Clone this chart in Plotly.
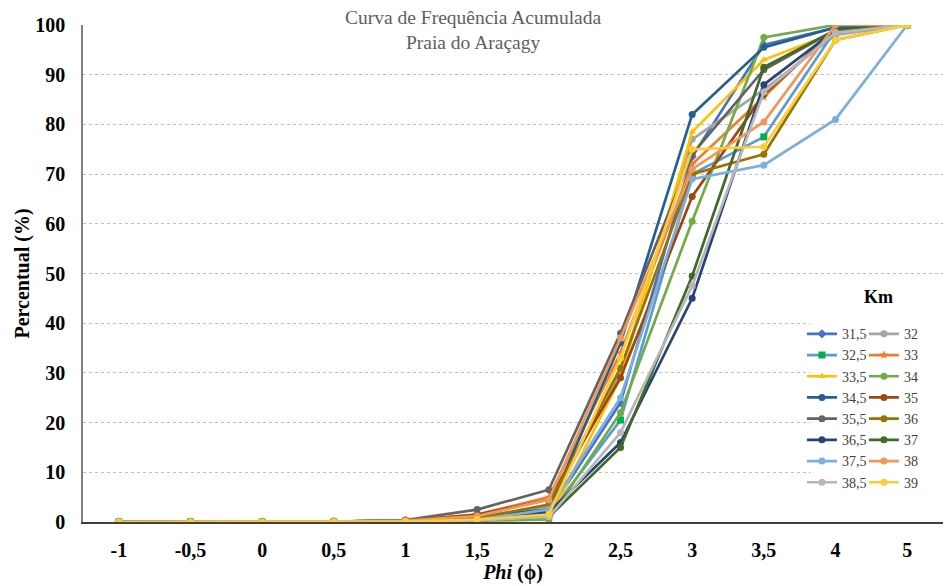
import plotly.graph_objects as go

phi = ["-1", "-0,5", "0", "0,5", "1", "1,5", "2", "2,5", "3", "3,5", "4", "5"]

names = ["31,5", "32", "32,5", "33", "33,5", "34", "34,5", "35",
         "35,5", "36", "36,5", "37", "37,5", "38", "38,5", "39"]

s31_5 = [0, 0, 0, 0.1, 0.3, 1.0, 2.0, 24, 73.5, 96, 99.5, 100]
s32   = [0, 0, 0, 0.1, 0.2, 0.8, 3.0, 30, 77, 87, 98, 100]
s32_5 = [0, 0, 0, 0, 0.2, 0.5, 1.5, 20.5, 70, 77.5, 99, 100]
s33   = [0, 0, 0, 0.1, 0.3, 1.5, 5.0, 34, 72, 85.5, 99.5, 100]
s33_5 = [0, 0, 0, 0, 0.1, 0.3, 0.5, 29, 78.5, 93, 98.5, 100]
s34   = [0, 0, 0, 0, 0.1, 0.3, 0.5, 22, 60.5, 97.5, 100, 100]
s34_5 = [0, 0, 0, 0.1, 0.3, 1.2, 2.5, 36, 82, 95.5, 99.5, 100]
s35   = [0, 0, 0, 0.1, 0.3, 1.5, 4.5, 29, 65.5, 86, 99, 100]
s35_5 = [0, 0, 0, 0.1, 0.4, 2.5, 6.5, 38, 74, 91, 99, 100]
s36   = [0, 0, 0, 0, 0.2, 0.8, 3.5, 31, 70, 74, 97, 100]
s36_5 = [0, 0, 0, 0, 0.2, 0.5, 2.0, 16, 45, 88, 99, 100]
s37   = [0, 0, 0, 0, 0.1, 0.3, 1.0, 15, 49.5, 91.5, 99, 100]
s37_5 = [0, 0, 0, 0, 0.1, 0.5, 2.5, 25, 69, 71.8, 81, 100]
s38   = [0, 0, 0, 0.1, 0.3, 1.2, 4.5, 37, 71, 80.5, 100, 100]
s38_5 = [0, 0, 0, 0, 0.1, 0.3, 1.0, 18, 47.5, 86.5, 98.5, 100]
s39   = [0, 0, 0, 0, 0.1, 0.5, 1.5, 33, 75, 75.5, 97, 100]

series = [s31_5, s32, s32_5, s33, s33_5, s34, s34_5, s35,
          s35_5, s36, s36_5, s37, s37_5, s38, s38_5, s39]

colors = ["#4472C4", "#A5A5A5", "#5B9BD5", "#ED7D31", "#FFC000", "#70AD47", "#255E91", "#9E480E",
          "#636363", "#997300", "#264478", "#43682B", "#7CAFDD", "#F1975A", "#B7B7B7", "#FFCD33"]
marker_colors = list(colors)
marker_colors[2] = "#00B050"
symbols = ["diamond", "circle", "square", "star", "triangle-up", "circle", "circle", "circle",
           "circle", "circle", "circle", "circle", "circle", "circle", "circle", "circle"]

serif = "Liberation Serif"

fig = go.Figure()
for i, (name, vals, col, mcol, sym) in enumerate(zip(names, series, colors, marker_colors, symbols)):
    fig.add_trace(go.Scatter(
        x=phi, y=vals, name=name, mode="lines+markers",
        line=dict(color=col, width=2.7),
        marker=dict(color=mcol, size=7, symbol=sym),
        legend="legend" if i % 2 == 0 else "legend2",
    ))

leg_common = dict(
    orientation="v", yanchor="top", y=0.41, xanchor="left",
    bgcolor="rgba(0,0,0,0)", font=dict(family=serif, size=14, color="#404040"),
    itemwidth=30, tracegroupgap=0, borderwidth=0,
)

fig.update_layout(
    width=945, height=586,
    margin=dict(l=83, r=2, t=25, b=64, autoexpand=False),
    paper_bgcolor="white", plot_bgcolor="white",
    font=dict(family=serif, color="black"),
    showlegend=True,
    legend=dict(x=0.836, **leg_common),
    legend2=dict(x=0.908, **leg_common),
    xaxis=dict(
        type="category", categoryorder="array", categoryarray=phi,
        showgrid=False, showline=True, linecolor="#404040", linewidth=1.5,
        ticks="", ticklabelstandoff=9,
        tickfont=dict(family=serif, size=20, color="black", weight="bold"),
        title=dict(text="<i>Phi</i> (ϕ)", font=dict(family=serif, size=20, color="black", weight="bold"),
                   standoff=4),
        range=[-0.5, 11.5], zeroline=False,
    ),
    yaxis=dict(
        range=[0, 100], dtick=10, showgrid=True, gridcolor="#BFBFBF", griddash="dot", gridwidth=1,
        showline=True, linecolor="#808080", linewidth=1.5, zeroline=False,
        ticks="", ticklabelstandoff=12,
        tickfont=dict(family=serif, size=20, color="black", weight="bold"),
        title=dict(text="Percentual (%)", font=dict(family=serif, size=20, color="black", weight="bold"),
                   standoff=0),
    ),
)

# white backdrop behind the legend block
fig.add_shape(type="rect", xref="paper", yref="paper", x0=0.846, x1=1.0, y0=0.09, y1=0.49,
              fillcolor="white", line=dict(width=0), layer="above")

fig.add_annotation(
    text="Curva de Frequência Acumulada<br>Praia do Araçagy",
    xref="paper", yref="paper", x=0.453, y=1.04, xanchor="center", yanchor="top",
    showarrow=False, bgcolor="white",
    font=dict(family=serif, size=19.5, color="#606060"),
)
fig.add_annotation(
    text="<b>Km</b>", xref="paper", yref="paper", x=0.925, y=0.453,
    xanchor="center", yanchor="middle", showarrow=False, bgcolor="white",
    font=dict(family=serif, size=18, color="black"),
)

fig.write_html("out.html")
